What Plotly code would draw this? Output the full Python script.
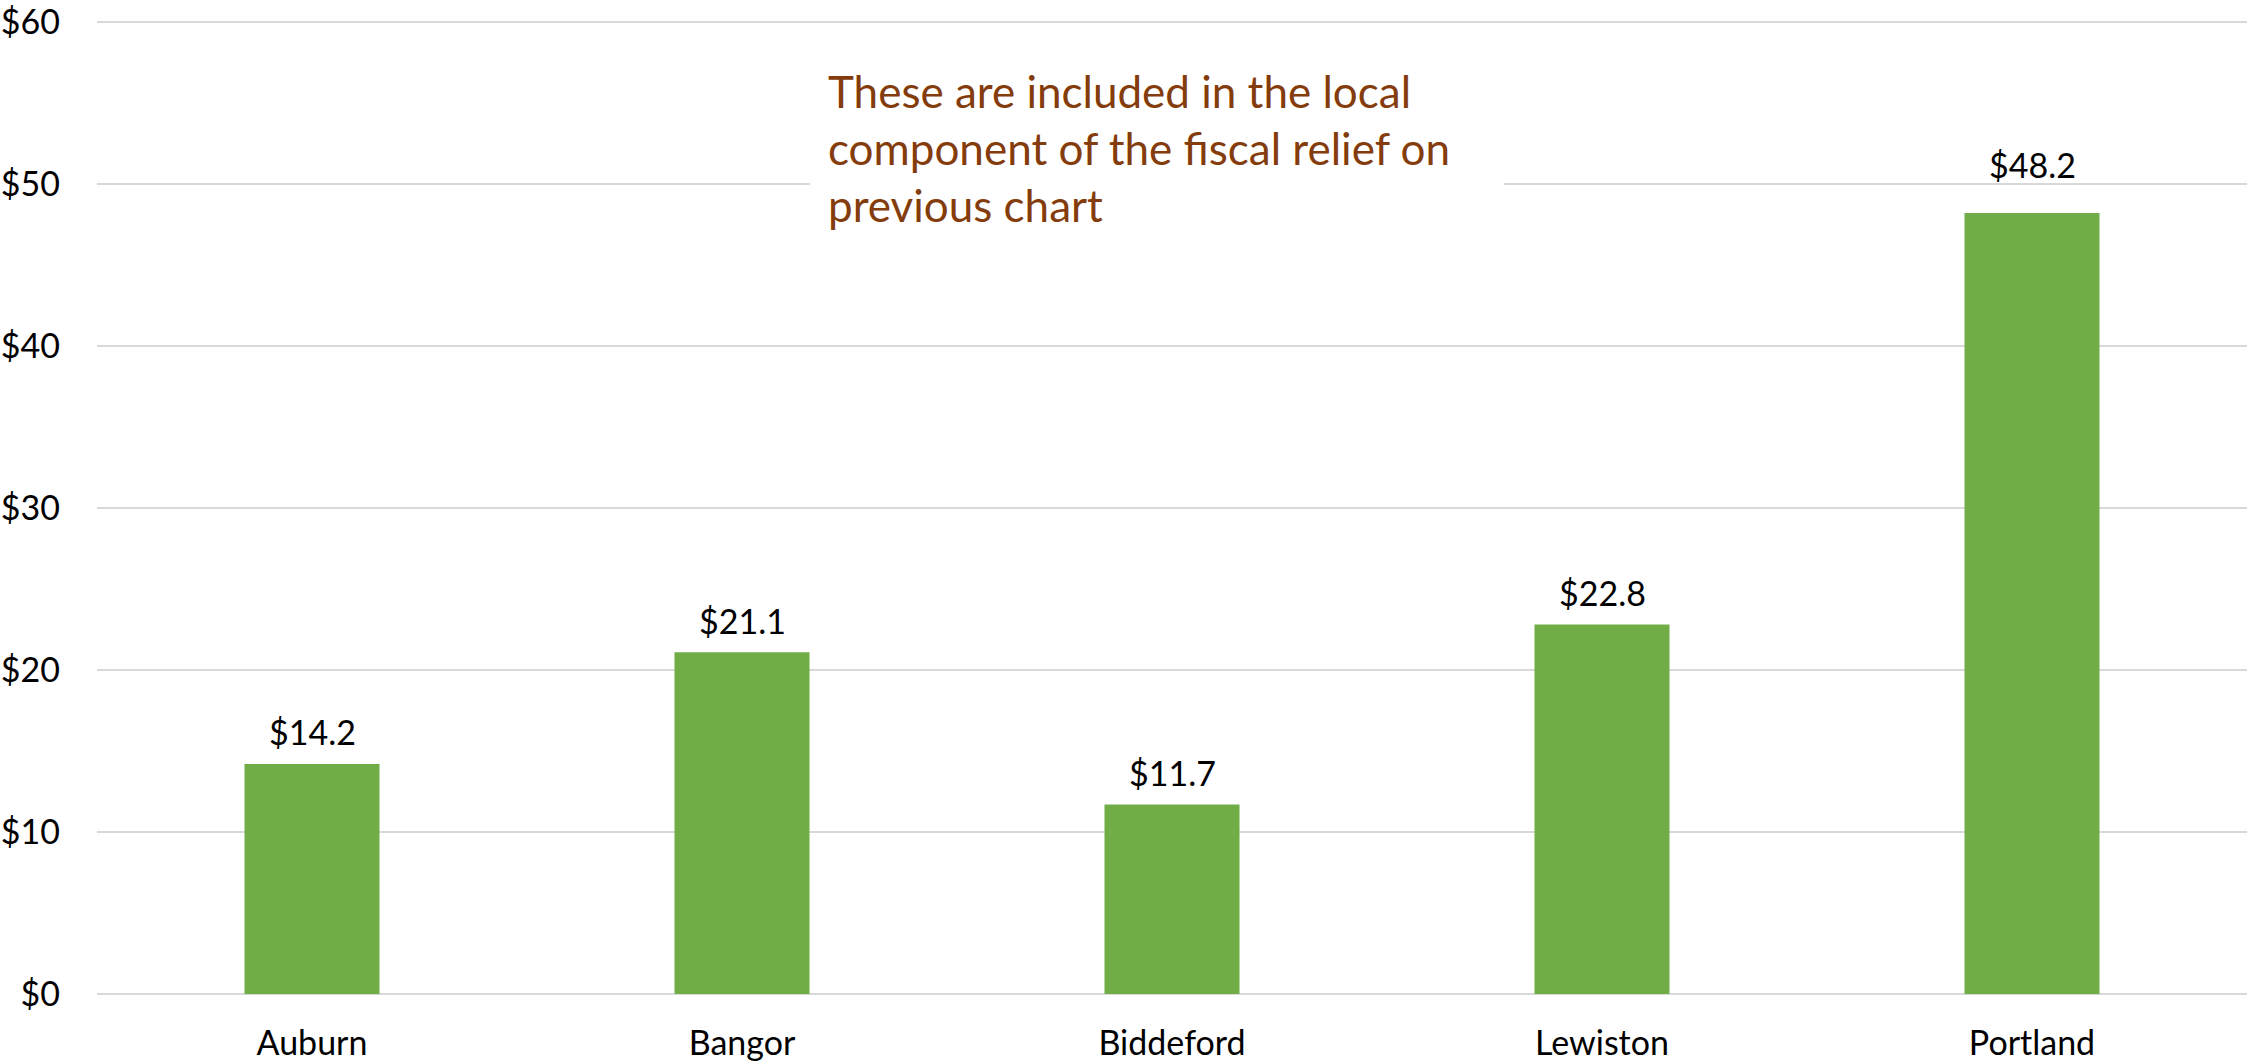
import plotly.graph_objects as go

cities = ["Auburn", "Bangor", "Biddeford", "Lewiston", "Portland"]
values = [14.2, 21.1, 11.7, 22.8, 48.2]
y_ticks = [0, 10, 20, 30, 40, 50, 60]
y_tick_text = ["$0", "$10", "$20", "$30", "$40", "$50", "$60"]
note = "These are included in the local<br>component of the fiscal relief on<br>previous chart"

W, H = 2247, 1063
ML, MR, MT, MB = 97, 0, 14, 69
PW, PH = W - ML - MR, H - MT - MB

FONT = "Lato"
fig = go.Figure()
fig.add_trace(go.Bar(x=cities, y=values, marker=dict(color="#70AD47", line=dict(width=0)),
                     hoverinfo="skip"))

# value labels
for c, v in zip(cities, values):
    shift = 49 if v == max(values) else 32
    fig.add_annotation(x=c, y=v, xref="x", yref="y", text=f"${v:.1f}", showarrow=False,
                       yanchor="middle", yshift=shift,
                       font=dict(family=FONT, size=34, color="#000000"))

def px_x(p):
    return (p - ML) / PW

def px_y(p):
    return 1 - (p - MT) / PH

# white box covering gridline behind the note
fig.add_shape(type="rect", xref="paper", yref="paper",
              x0=px_x(810), x1=px_x(1504), y0=px_y(250), y1=px_y(45),
              fillcolor="white", line=dict(width=0), layer="above")
fig.add_annotation(xref="paper", yref="paper", x=px_x(826), y=px_y(60),
                   xanchor="left", yanchor="top", align="left", showarrow=False,
                   text=note, font=dict(family=FONT, size=44, color="#843C0C"))

fig.update_layout(
    width=W, height=H,
    margin=dict(l=ML, r=MR, t=MT, b=MB, pad=0),
    paper_bgcolor="white", plot_bgcolor="white",
    bargap=0.686, showlegend=False,
    font=dict(family=FONT, size=34, color="#000000"),
    xaxis=dict(showgrid=False, showline=False, zeroline=False, ticks="",
               ticklabelstandoff=26, tickfont=dict(family=FONT, size=34, color="#000000")),
    yaxis=dict(range=[0, 60.3], tickvals=y_ticks, ticktext=y_tick_text,
               showgrid=True, gridcolor="#D9D9D9", gridwidth=1.5,
               zeroline=True, zerolinecolor="#D9D9D9", zerolinewidth=1.5,
               showline=False, ticks="", ticklabelstandoff=36,
               ticklabeloverflow="allow",
               tickfont=dict(family=FONT, size=34, color="#000000")),
)

fig.write_html("out.html", config={"displayModeBar": False},
               post_script="document.body.style.margin='0';")
